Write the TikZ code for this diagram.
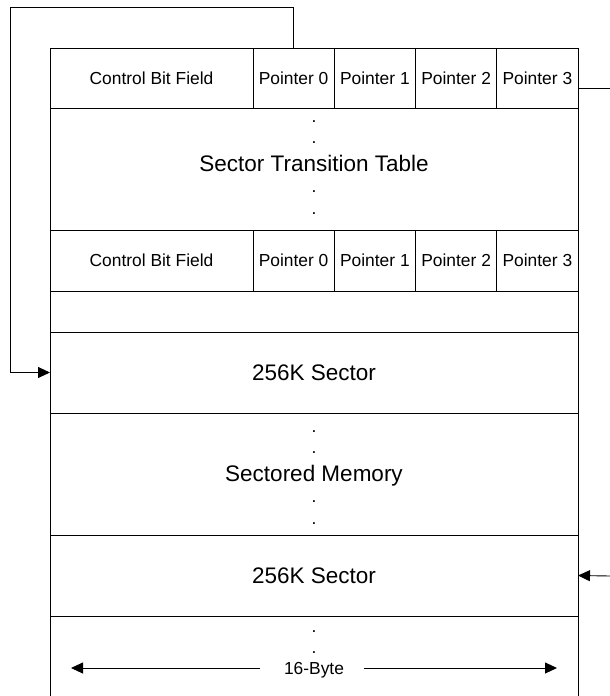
\documentclass[tikz,border=0pt]{standalone}
\usepackage{fontspec}
\setmainfont{Liberation Sans}
\usetikzlibrary{positioning,arrows.meta}
\begin{document}
\begin{tikzpicture}[x=1pt, y=-1pt, line width=0.9pt,
    cell/.style={draw, rectangle, inner sep=0pt, outer sep=0pt, minimum height=60pt, font=\fontsize{17.4}{21}\selectfont},
    ptr/.style={cell, minimum width=81.25pt},
    row/.style={draw, rectangle, inner sep=0pt, outer sep=0pt, minimum width=528pt, text depth=0pt, font=\fontsize{22.5}{27}\selectfont},
    title/.style={inner sep=0pt, text depth=0pt, font=\fontsize{22.5}{27}\selectfont},
    lbl/.style={inner sep=0pt, text depth=0pt, font=\fontsize{17.4}{21}\selectfont},
    arr/.style={-{Triangle[length=12pt, width=11pt]}}]
    \useasboundingbox (0,0) rectangle (610,696);
    \clip (0,0) rectangle (610,696);

    % transition table
    \node[cell, minimum width=203pt, anchor=north west] (cbf1) at (50,48) {Control Bit Field};
    \node[ptr, right=0pt of cbf1] (p10) {Pointer 0};
    \node[ptr, right=0pt of p10] (p11) {Pointer 1};
    \node[ptr, right=0pt of p11] (p12) {Pointer 2};
    \node[ptr, right=0pt of p12] (p13) {Pointer 3};
    \node[row, minimum height=122pt, below=0pt of cbf1.south west, anchor=north west] (table) {};
    \node[cell, minimum width=203pt, minimum height=61pt, below=0pt of table.south west, anchor=north west] (cbf2) {Control Bit Field};
    \node[ptr, minimum height=61pt, right=0pt of cbf2] (p20) {Pointer 0};
    \node[ptr, minimum height=61pt, right=0pt of p20] (p21) {Pointer 1};
    \node[ptr, minimum height=61pt, right=0pt of p21] (p22) {Pointer 2};
    \node[ptr, minimum height=61pt, right=0pt of p22] (p23) {Pointer 3};
    \node[row, minimum height=41pt, below=0pt of cbf2.south west, anchor=north west] (gap) {};

    % sectored memory
    \node[row, minimum height=81pt, below=0pt of gap] (sec1) {256K Sector};
    \node[row, minimum height=122pt, below=0pt of sec1] (mem) {};
    \node[row, minimum height=81pt, below=0pt of mem] (sec2) {256K Sector};
    \node[row, minimum height=100pt, below=0pt of sec2] (tail) {};

    \node[title, yshift=6pt] (stt) at (table.center) {Sector Transition Table};
    \node[title, yshift=1pt] (smem) at (mem.center) {Sectored Memory};
    \foreach \t in {stt, smem}
        \foreach \dy [count=\i] in {-41,-20,28.5,50.5}
            \path (\t.center) ++(0,\dy) node[lbl] (\t-dot\i) {.};

    \path (tail.north) ++(0,52) node[lbl] (byte) {16-Byte};
    \foreach \dy [count=\i] in {-36,-15}
        \path (byte.center) ++(0,\dy) node[lbl] (byte-dot\i) {.};
    \coordinate (bytel) at (71,668);
    \coordinate (byter) at (557,668);
    \draw[arr] ([xshift=-24pt]byte.west) -- (bytel);
    \draw[arr] ([xshift=20pt]byte.east) -- (byter);

    % pointers
    \coordinate (loop) at (10,7);
    \draw[arr] (p10.north) |- (loop) |- (sec1.west);
    \coordinate (outtop) at (610,88);
    \draw ([yshift=-10pt]p13.east) -- (outtop);
    \coordinate (outbot) at (610,576);
    \draw[arr] (outbot) -- (sec2.east);
\end{tikzpicture}
\end{document}
